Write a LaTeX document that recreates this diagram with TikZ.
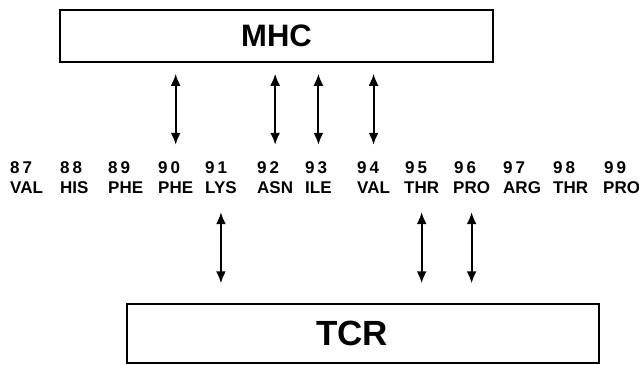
\documentclass[tikz,border=0pt]{standalone}
\usepackage{fontspec}
\setmainfont{Liberation Sans}
\usetikzlibrary{arrows.meta}

\begin{document}
\begin{tikzpicture}[x=1pt,y=-1pt,>=Latex,
  box/.style={draw,line width=1.5pt,inner sep=0pt},
  num/.style={anchor=west,inner sep=0pt,font=\fontsize{17}{17}\selectfont\bfseries},
  res/.style={anchor=west,inner sep=0pt,font=\fontsize{17}{17}\selectfont\bfseries},
  link/.style={{Latex[length=12pt,width=10pt]}-{Latex[length=12pt,width=10pt]},line width=1.9pt}]
\useasboundingbox (0,0) rectangle (639,364);
\node[box,minimum width=433pt,minimum height=52pt,font=\fontsize{31}{31}\selectfont\bfseries] (mhc) at (276.5,36) {MHC};
\node[box,minimum width=472pt,minimum height=59pt,font=\fontsize{35}{35}\selectfont\bfseries] (tcr) at (363,333.5) {TCR\hbox to 22pt{}};
% residues 87--99
\node[num] (n87) at (10,168) {8\kern3pt 7};  \node[res] (r87) at (10,188) {VAL};
\node[num] (n88) at (60,168) {8\kern3pt 8};  \node[res] (r88) at (60,188) {HIS};
\node[num] (n89) at (108,168) {8\kern3pt 9}; \node[res] (r89) at (108,188) {PHE};
\node[num] (n90) at (158,168) {9\kern3pt 0}; \node[res] (r90) at (158,188) {PHE};
\node[num] (n91) at (205,168) {9\kern3pt 1}; \node[res] (r91) at (205,188) {LYS};
\node[num] (n92) at (257,168) {9\kern3pt 2}; \node[res] (r92) at (257,188) {ASN};
\node[num] (n93) at (305,168) {9\kern3pt 3}; \node[res] (r93) at (305,188) {ILE};
\node[num] (n94) at (357,168) {9\kern3pt 4}; \node[res] (r94) at (357,188) {VAL};
\node[num] (n95) at (405,168) {9\kern3pt 5}; \node[res] (r95) at (404,188) {THR};
\node[num] (n96) at (454,168) {9\kern3pt 6}; \node[res] (r96) at (453,188) {PRO};
\node[num] (n97) at (503,168) {9\kern3pt 7}; \node[res] (r97) at (503,188) {ARG};
\node[num] (n98) at (553,168) {9\kern3pt 8}; \node[res] (r98) at (553,188) {THR};
\node[num] (n99) at (604,168) {9\kern3pt 9}; \node[res] (r99) at (603,188) {PRO};
% contacts with MHC
\draw[link,shorten <=11pt,shorten >=17pt] (mhc.south -| r90) -- (n90.north -| r90);
\draw[link,shorten <=11pt,shorten >=17pt] (mhc.south -| r92) -- (n92.north -| r92);
\draw[link,shorten <=11pt,shorten >=17pt] (mhc.south -| r93) -- (n93.north -| r93);
\draw[link,shorten <=11pt,shorten >=17pt] (mhc.south -| r94) -- (n94.north -| r94);
% contacts with TCR
\draw[link,shorten <=18pt,shorten >=20pt] (r91.south) -- (tcr.north -| r91);
\draw[link,shorten <=18pt,shorten >=20pt] (r95.south) -- (tcr.north -| r95);
\draw[link,shorten <=18pt,shorten >=20pt] (r96.south) -- (tcr.north -| r96);
\end{tikzpicture}
\end{document}
